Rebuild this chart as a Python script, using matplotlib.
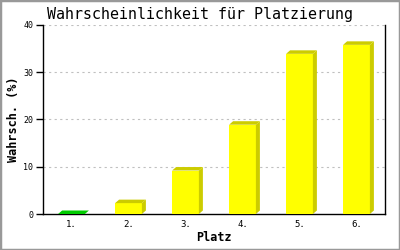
import matplotlib
matplotlib.use("Agg")
import matplotlib.pyplot as plt
from matplotlib.patches import Polygon, Rectangle

categories = ["1.", "2.", "3.", "4.", "5.", "6."]
values = [0.0, 2.3, 9.2, 18.9, 33.9, 35.8]
front_colors = ["#00cc00", "#ffff00", "#ffff00", "#ffff00", "#ffff00", "#ffff00"]
shade_colors = ["#00cc00", "#cccc00", "#cccc00", "#cccc00", "#cccc00", "#cccc00"]
yticks = [0, 10, 20, 30, 40]

W, H = 400, 250
fig = plt.figure(figsize=(4, 2.5), dpi=100)
fig.patch.set_facecolor("white")
fig.patches.append(Rectangle((0, 0), 1, 1, transform=fig.transFigure, fill=False,
                             edgecolor="#999999", linewidth=2.5, zorder=10))

left, right, top, bottom = 43, 385, 25, 214
ax = fig.add_axes([left / W, 1 - bottom / H, (right - left) / W, (bottom - top) / H])
ax.set_xlim(0.5, 6.5)
ax.set_ylim(0, 40)

mono = "DejaVu Sans Mono"
bw = 0.47
px_x = (6.0) / (right - left)
px_y = 40.0 / (bottom - top)
dx = 4 * px_x
dy = 3.5 * px_y

xs = list(range(1, len(values) + 1))
for x, v, fc, sc in zip(xs, values, front_colors, shade_colors):
    x0, x1 = x - bw / 2, x + bw / 2
    if v > 0:
        ax.bar(x, v, width=bw, color=fc, linewidth=0, zorder=3)
        side = [(x1, 0), (x1 + dx, dy), (x1 + dx, v + dy), (x1, v)]
        ax.add_patch(Polygon(side, closed=True, facecolor=sc, edgecolor="none", zorder=3))
    topf = [(x0, v), (x0 + dx, v + dy), (x1 + dx, v + dy), (x1, v)]
    ax.add_patch(Polygon(topf, closed=True, facecolor=sc, edgecolor="none", zorder=3))

for t in yticks[1:]:
    ax.axhline(t, color="#c0c0c0", linestyle=(0, (2, 3)), linewidth=0.8, zorder=1)

ax.set_yticks(yticks)
ax.set_yticklabels([str(t) for t in yticks], fontsize=6, family=mono)
ax.set_xticks(xs)
ax.set_xticklabels(categories, fontsize=6.5, family=mono)
ax.tick_params(axis="x", length=0, pad=4)
ax.tick_params(axis="y", length=5, width=1, pad=2, direction="out")

for s in ["left", "bottom", "right"]:
    ax.spines[s].set_color("black")
    ax.spines[s].set_linewidth(1)
ax.spines["top"].set_visible(False)

ax.set_xlabel("Platz", fontsize=8.5, family=mono, fontweight="bold", labelpad=2)
ax.set_ylabel("Wahrsch. (%)", fontsize=8.5, family=mono, fontweight="bold", labelpad=2)
fig.text(0.5, 1 - 14 / H, "Wahrscheinlichkeit für Platzierung", ha="center", va="center",
         fontsize=10.8, family=mono)

fig.savefig("out.png", dpi=100)
